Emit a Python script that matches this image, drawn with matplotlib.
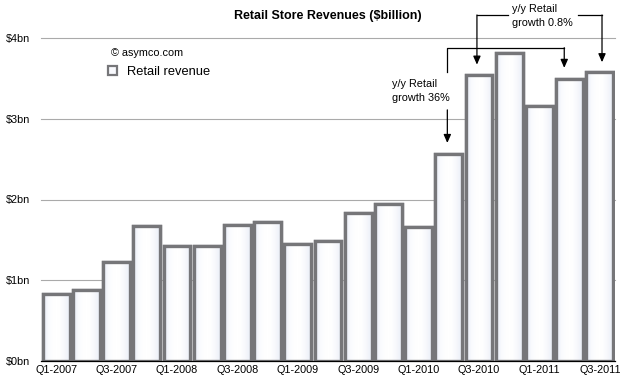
import matplotlib as mpl

mpl.use("Agg")
import numpy as np
import matplotlib.pyplot as plt
from matplotlib.patches import Patch
from matplotlib.colors import LinearSegmentedColormap

plt.rcParams["font.family"] = ["Liberation Sans", "DejaVu Sans"]

# quarterly retail revenue, $bn
QUARTERS = [
    "Q1-2007", "Q2-2007", "Q3-2007", "Q4-2007",
    "Q1-2008", "Q2-2008", "Q3-2008", "Q4-2008",
    "Q1-2009", "Q2-2009", "Q3-2009", "Q4-2009",
    "Q1-2010", "Q2-2010", "Q3-2010", "Q4-2010",
    "Q1-2011", "Q2-2011", "Q3-2011",
]
REVENUE = [0.83, 0.88, 1.22, 1.67, 1.43, 1.42, 1.69, 1.72, 1.45, 1.48,
           1.83, 1.95, 1.66, 2.56, 3.54, 3.82, 3.16, 3.49, 3.58]
Y_TICKS = [0, 1, 2, 3, 4]
Y_LABELS = ["$0bn", "$1bn", "$2bn", "$3bn", "$4bn"]

EDGE = "#767679"
FILL = "#f8f9fd"

fig = plt.figure(figsize=(6.2, 3.81), dpi=100)
ax = fig.add_axes([41 / 620, 20 / 381, 574 / 620, 323 / 381])

x = list(range(len(REVENUE)))
bars = ax.bar(x, REVENUE, width=0.89, facecolor=FILL, edgecolor=EDGE,
              linewidth=2.4, zorder=3)

# faint bluish shading just inside the bar edges
shade = LinearSegmentedColormap.from_list(
    "shade", ["#e6ebf6", "#fafbfe", "#ffffff", "#ffffff", "#f7f8fc", "#eaeef7"])
grad = np.linspace(0, 1, 64).reshape(1, -1)
for rect in bars:
    x0, w, h = rect.get_x(), rect.get_width(), rect.get_height()
    im = ax.imshow(grad, cmap=shade, aspect="auto", zorder=3.1,
                   extent=(x0, x0 + w, 0, h), interpolation="bicubic")
    im.set_clip_path(rect)
    # redraw outline above the shading
    ax.bar(rect.get_x() + w / 2, h, width=w, facecolor="none",
           edgecolor=EDGE, linewidth=2.4, zorder=3.2)

ax.set_xlim(-0.5, len(REVENUE) - 0.5)
ax.set_ylim(0, 4)
ax.set_yticks(Y_TICKS)
ax.set_yticklabels(Y_LABELS)
ax.set_xticks(x[::2])
ax.set_xticklabels(QUARTERS[::2])
ax.tick_params(axis="both", length=0, labelsize=7.8)
ax.tick_params(axis="y", pad=8)
ax.tick_params(axis="x", pad=3)

for t in Y_TICKS[1:]:
    ax.axhline(t, color="#aaaaaa", lw=0.8, zorder=1, clip_on=False)

for s in ["top", "right", "left"]:
    ax.spines[s].set_visible(False)
ax.spines["bottom"].set_color("black")
ax.spines["bottom"].set_linewidth(0.9)
ax.spines["bottom"].set_zorder(4)

ax.set_title("Retail Store Revenues ($billion)", fontsize=9, fontweight="bold",
             pad=14)

# copyright + legend
fig.text(111 / 620, 1 - 52.7 / 381, "© asymco.com", fontsize=7.8, va="center")
handle = Patch(facecolor=FILL, edgecolor=EDGE, linewidth=1.6)
fig.legend([handle], ["Retail revenue"], loc="center left",
           bbox_to_anchor=(108 / 620, 1 - 71.7 / 381), frameon=False,
           fontsize=9.3, handlelength=0.7, handleheight=0.7,
           handletextpad=0.8, borderpad=0, borderaxespad=0)

# y/y annotations: brackets between compared quarters
arrow = dict(arrowstyle="-|>,head_length=0.5,head_width=0.22", color="black",
             lw=0.9, shrinkA=0, shrinkB=0)
line_kw = dict(color="black", lw=0.9, clip_on=False, zorder=5)


def bracket_arrow(xpos, y_from, y_to):
    ax.annotate("", xy=(xpos, y_to), xytext=(xpos, y_from),
                arrowprops=arrow, annotation_clip=False, zorder=5)


# Q2-2010 -> Q2-2011
a, b = 13, 17
xa, xb = a - 0.05, b - 0.18
top1 = 3.88
ax.plot([xa, xa, xb], [3.58, top1, top1], **line_kw)
bracket_arrow(xb, top1, REVENUE[b] + 0.14)
bracket_arrow(xa, 3.11, REVENUE[a] + 0.14)
ax.text(11.12, 3.34, "y/y Retail\ngrowth 36%", fontsize=7.8, va="center",
        ha="left", linespacing=1.45)

# Q3-2010 -> Q3-2011
a, b = 14, 18
xa, xb = a - 0.07, b + 0.07
top2 = 4.285
ax.plot([xa, 14.96], [top2, top2], **line_kw)
ax.plot([17.27, xb], [top2, top2], **line_kw)
bracket_arrow(xa, top2, REVENUE[a] + 0.13)
bracket_arrow(xb, top2, REVENUE[b] + 0.12)
ax.text(15.09, 4.27, "y/y Retail\ngrowth 0.8%", fontsize=7.8, va="center",
        ha="left", linespacing=1.45)

fig.savefig("out.png", dpi=100)
